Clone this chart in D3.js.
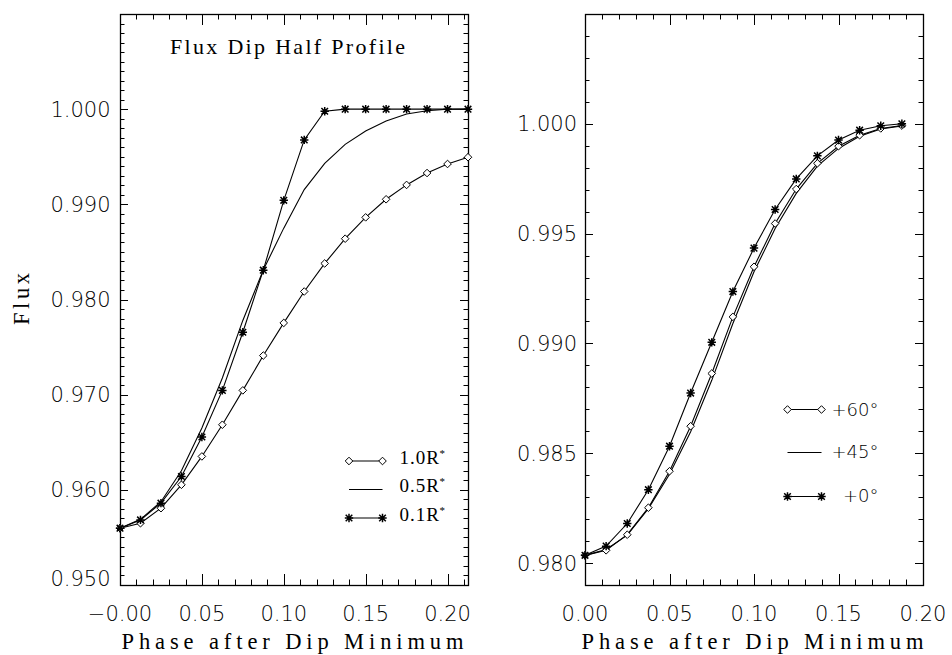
<!DOCTYPE html>
<html>
<head>
<meta charset="utf-8">
<script src="https://cdn.jsdelivr.net/npm/d3@7"></script>
<style>
  html, body { margin: 0; padding: 0; background: #fff; }
  svg { display: block; }
  .tick-label { font-family: "DejaVu Sans", sans-serif; font-size: 21px; font-weight: 200; fill: #000; }
  .serif { font-family: "Liberation Serif", serif; fill: #000; }
  .leg-sans { font-family: "DejaVu Sans", sans-serif; font-size: 18px; font-weight: 200; fill: #000; }
</style>
</head>
<body>
<script>
// ---------------- DATA ----------------
const leftPhase = [0, 0.0125, 0.025, 0.0375, 0.05, 0.0625, 0.075, 0.0875, 0.1, 0.1125,
                   0.125, 0.1375, 0.15, 0.1625, 0.175, 0.1875, 0.2, 0.2125];
const flux10R = [0.95597, 0.95649, 0.95807, 0.96053, 0.96351, 0.96684, 0.97045, 0.97411, 0.97754, 0.98084,
                 0.98379, 0.98639, 0.98863, 0.99053, 0.99204, 0.99329, 0.99424, 0.99495];
const flux05R = [0.95597, 0.95690, 0.95875, 0.96200, 0.96650, 0.97175, 0.97780, 0.98310, 0.98750, 0.99155,
                 0.99431, 0.99630, 0.99771, 0.99876, 0.99950, 0.99984, 0.99999, 1.00000];
const flux01R = [0.95597, 0.95684, 0.95860, 0.96140, 0.96555, 0.97045, 0.97656, 0.98308, 0.99042, 0.99677,
                 0.99978, 1.00000, 1.00000, 1.00000, 1.00000, 1.00000, 1.00000, 1.00000];
const leftLegend = ["1.0R", "0.5R", "0.1R"];
const leftXTicks = [0, 0.05, 0.10, 0.15, 0.20];
const leftXTickLabels = ["\u22120.00", "0.05", "0.10", "0.15", "0.20"];
const leftYTicks = [0.950, 0.960, 0.970, 0.980, 0.990, 1.000];
const leftYTickLabels = ["0.950", "0.960", "0.970", "0.980", "0.990", "1.000"];

const rightPhase = [0, 0.0125, 0.025, 0.0375, 0.05, 0.0625, 0.075, 0.0875, 0.1, 0.1125,
                    0.125, 0.1375, 0.15, 0.1625, 0.175, 0.1875];
const flux60 = [0.98035, 0.98058, 0.98129, 0.98252, 0.98418, 0.98623, 0.98863, 0.99121, 0.99349, 0.99546,
                0.99703, 0.99820, 0.99898, 0.99948, 0.99979, 0.99992];
const flux45 = [0.98035, 0.98062, 0.98127, 0.98248, 0.98404, 0.98598, 0.98832, 0.99091, 0.99326, 0.99523,
                0.99683, 0.99807, 0.99888, 0.99943, 0.99976, 0.99990];
const flux00 = [0.98035, 0.98077, 0.98180, 0.98334, 0.98532, 0.98774, 0.99005, 0.99236, 0.99434, 0.99610,
                0.99749, 0.99854, 0.99926, 0.99971, 0.99991, 1.00000];
const rightLegend = ["+60\u00B0", "+45\u00B0", "+0\u00B0"];
const rightXTicks = [0, 0.05, 0.10, 0.15, 0.20];
const rightXTickLabels = ["0.00", "0.05", "0.10", "0.15", "0.20"];
const rightYTicks = [0.980, 0.985, 0.990, 0.995, 1.000];
const rightYTickLabels = ["0.980", "0.985", "0.990", "0.995", "1.000"];

const chartTitle = "Flux Dip Half Profile";
const xTitle = "Phase after Dip Minimum";
const yTitle = "Flux";

// ---------------- DRAW ----------------
const W = 952, H = 655;
const svg = d3.select("body").append("svg").attr("width", W).attr("height", H);

function star(g, x, y) {
  const r = 4.2, d = 3.3;
  g.append("path")
    .attr("d", `M${x - r},${y}L${x + r},${y}M${x},${y - r}L${x},${y + r}M${x - d},${y - d}L${x + d},${y + d}M${x - d},${y + d}L${x + d},${y - d}`)
    .attr("stroke", "#000").attr("stroke-width", 1.5).attr("fill", "none");
}
function diamond(g, x, y) {
  const r = 3.8;
  g.append("path")
    .attr("d", `M${x},${y - r}L${x + r},${y}L${x},${y + r}L${x - r},${y}Z`)
    .attr("stroke", "#000").attr("stroke-width", 1).attr("fill", "#fff");
}

function panel(cfg) {
  const g = svg.append("g");
  const x = d3.scaleLinear().domain(cfg.xDomain).range([cfg.x0, cfg.x1]);
  const y = d3.scaleLinear().domain(cfg.yDomain).range([cfg.y1, cfg.y0]);

  // minor ticks
  const xMinor = d3.range(Math.ceil(cfg.xDomain[0] / 0.01 - 1e-6), Math.floor(cfg.xDomain[1] / 0.01 + 1e-6) + 1).map(i => i * 0.01);
  const yMinor = d3.range(Math.round(cfg.yDomain[0] / 0.001), Math.round(cfg.yDomain[1] / 0.001) + 1).map(i => i * 0.001);
  const tk = g.append("g").attr("stroke", "#000").attr("stroke-width", 1);
  xMinor.forEach(v => {
    const px = Math.round(x(v)) + 0.5;
    tk.append("line").attr("x1", px).attr("x2", px).attr("y1", cfg.y1).attr("y2", cfg.y1 - 5.5);
    tk.append("line").attr("x1", px).attr("x2", px).attr("y1", cfg.y0).attr("y2", cfg.y0 + 5.5);
  });
  cfg.xTicks.forEach(v => {
    const px = Math.round(x(v)) + 0.5;
    tk.append("line").attr("x1", px).attr("x2", px).attr("y1", cfg.y1).attr("y2", cfg.y1 - 11);
    tk.append("line").attr("x1", px).attr("x2", px).attr("y1", cfg.y0).attr("y2", cfg.y0 + 11);
  });
  yMinor.forEach(v => {
    const py = Math.round(y(v)) + 0.5;
    tk.append("line").attr("x1", cfg.x0).attr("x2", cfg.x0 + 4.5).attr("y1", py).attr("y2", py);
    tk.append("line").attr("x1", cfg.x1).attr("x2", cfg.x1 - 4.5).attr("y1", py).attr("y2", py);
  });
  cfg.yTicks.forEach(v => {
    const py = Math.round(y(v)) + 0.5;
    tk.append("line").attr("x1", cfg.x0).attr("x2", cfg.x0 + 8).attr("y1", py).attr("y2", py);
    tk.append("line").attr("x1", cfg.x1).attr("x2", cfg.x1 - 8).attr("y1", py).attr("y2", py);
  });

  // frame
  g.append("rect").attr("x", cfg.x0 + 0.5).attr("y", cfg.y0 + 0.5)
    .attr("width", cfg.x1 - cfg.x0).attr("height", cfg.y1 - cfg.y0)
    .attr("fill", "none").attr("stroke", "#000").attr("stroke-width", 1.3);

  // tick labels
  cfg.xTicks.forEach((v, i) => {
    g.append("text").attr("class", "tick-label").attr("x", x(v)).attr("y", cfg.y1 + 35.5)
      .attr("text-anchor", "middle").text(cfg.xTickLabels[i]);
  });
  cfg.yTicks.forEach((v, i) => {
    g.append("text").attr("class", "tick-label").attr("x", cfg.x0 - cfg.yLabelGap)
      .attr("y", Math.min(y(v) + 7.5, cfg.y1 + 0.5))
      .attr("text-anchor", "end").text(cfg.yTickLabels[i]);
  });

  // x title
  g.append("text").attr("class", "serif").attr("font-size", 22.5)
    .attr("x", cfg.xTitleX).attr("y", 648.5).attr("text-anchor", "middle")
    .attr("textLength", 342).attr("lengthAdjust", "spacing").text(xTitle);

  // series
  const clip = "clip" + cfg.id;
  svg.append("clipPath").attr("id", clip).append("rect")
    .attr("x", cfg.x0 - 6).attr("y", cfg.y0).attr("width", cfg.x1 - cfg.x0 + 12).attr("height", cfg.y1 - cfg.y0);
  const dg = g.append("g").attr("clip-path", `url(#${clip})`);
  cfg.series.forEach(s => {
    const pts = cfg.phase.map((p, i) => [x(p), y(s.values[i])]);
    dg.append("path").attr("d", d3.line()(pts))
      .attr("fill", "none").attr("stroke", "#000").attr("stroke-width", 1.1);
  });
  cfg.series.forEach(s => {
    if (!s.marker) return;
    cfg.phase.forEach((p, i) => {
      if (s.marker === "star") star(dg, x(p), y(s.values[i]));
      else diamond(dg, x(p), y(s.values[i]));
    });
  });

  // legend
  const lg = g.append("g");
  cfg.series.forEach((s, i) => {
    const ly = cfg.legend.lineY[i];
    lg.append("line").attr("x1", cfg.legend.lx0).attr("x2", cfg.legend.lx1)
      .attr("y1", ly).attr("y2", ly).attr("stroke", "#000").attr("stroke-width", 1.1);
    if (s.marker === "star") { star(lg, cfg.legend.lx0, ly); star(lg, cfg.legend.lx1, ly); }
    else if (s.marker === "diamond") { diamond(lg, cfg.legend.lx0, ly); diamond(lg, cfg.legend.lx1, ly); }
    cfg.legend.text(lg, s.label, cfg.legend.textY[i]);
  });
  return g;
}

panel({
  id: "L", x0: 120, x1: 468, y0: 14, y1: 585,
  xDomain: [0, 0.2125], yDomain: [0.950, 1.010],
  xTicks: leftXTicks, xTickLabels: leftXTickLabels,
  yTicks: leftYTicks, yTickLabels: leftYTickLabels, yLabelGap: 9.5,
  xTitleX: 292.5,
  phase: leftPhase,
  series: [
    { values: flux10R, marker: "diamond", label: leftLegend[0] },
    { values: flux05R, marker: null, label: leftLegend[1] },
    { values: flux01R, marker: "star", label: leftLegend[2] }
  ],
  legend: {
    lx0: 349, lx1: 382.5, lineY: [461, 489.5, 518], textY: [463.5, 492, 520.5],
    text: (g, label, ty) => {
      const t = g.append("text").attr("class", "serif").attr("font-size", 19)
        .attr("letter-spacing", 1).attr("x", 399.5).attr("y", ty);
      t.append("tspan").text(label);
      t.append("tspan").attr("font-size", 11).attr("dy", -7).attr("dx", -0.5).text("*");
    }
  }
});

panel({
  id: "R", x0: 585, x1: 923, y0: 14, y1: 585,
  xDomain: [0, 0.2], yDomain: [0.979, 1.005],
  xTicks: rightXTicks, xTickLabels: rightXTickLabels,
  yTicks: rightYTicks, yTickLabels: rightYTickLabels, yLabelGap: 8,
  xTitleX: 752.5,
  phase: rightPhase,
  series: [
    { values: flux60, marker: "diamond", label: rightLegend[0] },
    { values: flux45, marker: null, label: rightLegend[1] },
    { values: flux00, marker: "star", label: rightLegend[2] }
  ],
  legend: {
    lx0: 787.5, lx1: 821.5, lineY: [409.5, 452.5, 496.5], textY: [415.5, 458, 502],
    text: (g, label, ty) => {
      g.append("text").attr("class", "leg-sans").attr("x", 878.5).attr("y", ty)
        .attr("text-anchor", "end").text(label);
    }
  }
});

// title and y title
svg.append("text").attr("class", "serif").attr("font-size", 22)
  .attr("x", 287.5).attr("y", 53.5).attr("text-anchor", "middle")
  .attr("textLength", 235).attr("lengthAdjust", "spacing").text(chartTitle);

svg.append("text").attr("class", "serif").attr("font-size", 22.5)
  .attr("transform", "translate(28.5,299) rotate(-90)").attr("text-anchor", "middle")
  .attr("textLength", 52).attr("lengthAdjust", "spacing").text(yTitle);
</script>
</body>
</html>
